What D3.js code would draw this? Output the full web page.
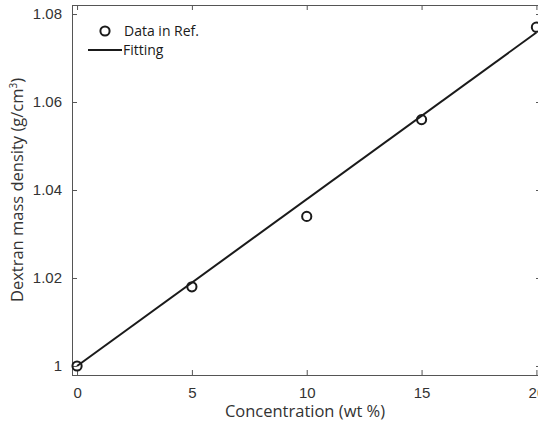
<!DOCTYPE html>
<html>
<head>
<meta charset="utf-8">
<script src="https://cdn.jsdelivr.net/npm/d3@7"></script>
<style>
  body { margin: 0; background: #fff; }
  svg { display: block; font-family: "Open Sans", "Noto Sans", sans-serif; }
</style>
</head>
<body>
<script>
// data
var concentration = [0, 5, 10, 15, 20];
var density = [1.000, 1.018, 1.034, 1.056, 1.077];
var fitX = [0, 20];
var fitY = [1.000, 1.0758];
var xTicks = [0, 5, 10, 15, 20];
var yTicks = [1, 1.02, 1.04, 1.06, 1.08];

var w = 538, h = 427;
var padL = 72, padR = 541, padT = 5, padB = 375;

var svg = d3.select("body").append("svg")
    .attr("width", w)
    .attr("height", h);

var x = d3.scaleLinear().domain([-0.22, 20.2]).range([padL, padR]);
var y = d3.scaleLinear().domain([0.99795, 1.08205]).range([padB, padT]);

var axisColor = "#555", textColor = "#333";

// axes, ticks pointing inward
function styleAxis(g) {
    g.select(".domain").remove();
    g.selectAll(".tick line").attr("stroke", axisColor);
    g.selectAll(".tick text").attr("fill", textColor).style("font-size", "15px");
}

svg.append("g")
    .attr("transform", "translate(0," + padB + ")")
    .call(d3.axisBottom(x).tickValues(xTicks).tickSize(-5).tickPadding(12).tickFormat(d3.format("d")))
    .call(styleAxis);
svg.append("g")
    .attr("transform", "translate(0," + padT + ")")
    .call(d3.axisTop(x).tickValues(xTicks).tickSize(-5).tickFormat(""))
    .call(styleAxis);
svg.append("g")
    .attr("transform", "translate(" + padL + ",0)")
    .call(d3.axisLeft(y).tickValues(yTicks).tickSize(-5).tickPadding(10).tickFormat(function(d) { return d === 1 ? "1" : d3.format(".2f")(d); }))
    .call(styleAxis);
svg.append("g")
    .attr("transform", "translate(" + padR + ",0)")
    .call(d3.axisRight(y).tickValues(yTicks).tickSize(-5).tickFormat(""))
    .call(styleAxis);

// box
svg.append("rect")
    .attr("x", padL + 0.5)
    .attr("y", padT + 0.5)
    .attr("width", padR - padL)
    .attr("height", padB - padT)
    .attr("fill", "none")
    .attr("stroke", axisColor)
    .attr("stroke-width", 1);

// fitting line
var line = d3.line()
    .x(function(d) { return x(d[0]); })
    .y(function(d) { return y(d[1]); });
svg.append("path")
    .datum(d3.zip(fitX, fitY))
    .attr("d", line)
    .attr("fill", "none")
    .attr("stroke", "#1a1a1a")
    .attr("stroke-width", 2);

// data markers
svg.selectAll("circle.pt")
    .data(d3.zip(concentration, density))
    .enter()
    .append("circle")
    .classed("pt", true)
    .attr("cx", function(d) { return x(d[0]); })
    .attr("cy", function(d) { return y(d[1]); })
    .attr("r", 4.6)
    .attr("fill", "none")
    .attr("stroke", "#1a1a1a")
    .attr("stroke-width", 2);

// axis labels
svg.append("text")
    .attr("x", 305)
    .attr("y", 417)
    .attr("text-anchor", "middle")
    .attr("fill", textColor)
    .style("font-size", "16.5px")
    .text("Concentration (wt %)");

var yl = svg.append("text")
    .attr("transform", "translate(23," + 190 + ") rotate(-90)")
    .attr("text-anchor", "middle")
    .attr("fill", textColor)
    .style("font-size", "16.5px");
yl.append("tspan").text("Dextran mass density (g/cm");
yl.append("tspan").attr("dy", -6).style("font-size", "10px").text("3");
yl.append("tspan").attr("dy", 6).text(")");

// legend
var legend = svg.append("g");
legend.append("circle")
    .attr("cx", 105).attr("cy", 31).attr("r", 4.6)
    .attr("fill", "none").attr("stroke", "#1a1a1a").attr("stroke-width", 2);
legend.append("text")
    .attr("x", 124).attr("y", 36)
    .attr("fill", "#1a1a1a").style("font-size", "14px")
    .text("Data in Ref.");
legend.append("line")
    .attr("x1", 88).attr("x2", 122).attr("y1", 50).attr("y2", 50)
    .attr("stroke", "#1a1a1a").attr("stroke-width", 2);
legend.append("text")
    .attr("x", 123).attr("y", 55)
    .attr("fill", "#1a1a1a").style("font-size", "14px")
    .text("Fitting");
</script>
</body>
</html>
